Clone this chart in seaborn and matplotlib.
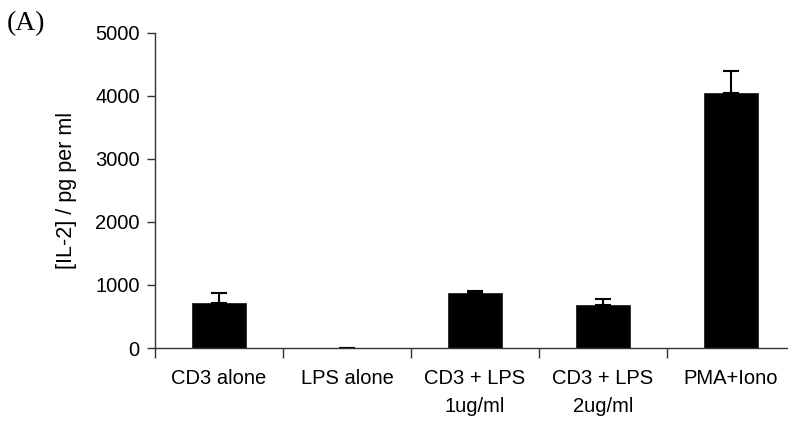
import matplotlib
matplotlib.use("Agg")
import matplotlib.pyplot as plt
import seaborn as sns
import numpy as np

categories = ["CD3 alone", "LPS alone", "CD3 + LPS\n1ug/ml", "CD3 + LPS\n2ug/ml", "PMA+Iono"]
values = [715, 5, 875, 690, 4050]
errors = [160, 0, 35, 95, 350]
yticks = [0, 1000, 2000, 3000, 4000, 5000]

sns.set_theme(style="ticks")
plt.rcParams['font.family'] = ['Liberation Sans', 'DejaVu Sans']
plt.rcParams['text.color'] = 'black'
plt.rcParams['xtick.labelcolor'] = 'black'
plt.rcParams['ytick.labelcolor'] = 'black'
plt.rcParams['axes.labelcolor'] = 'black'
FS = 14.5

fig = plt.figure(figsize=(7.88, 4.21), dpi=100)
ax = fig.add_axes([155/788, 1-348/421, 640/788, 315/421])

sns.barplot(x=categories, y=values, color="black", width=0.42, ax=ax,
            saturation=1, edgecolor="#222222", linewidth=0.6, errorbar=None)
pos = np.arange(len(categories))
ax.errorbar(pos, values, yerr=[np.zeros(len(errors)), errors], fmt="none",
            ecolor="black", elinewidth=1.5, capsize=5.5, capthick=1.5)

ax.set_xlim(-0.5, 4.5)
ax.set_ylim(0, 5000)
ax.set_yticks(yticks)
ax.set_yticklabels([str(v) for v in yticks], fontsize=FS)
ax.set_xticks(pos)
ax.set_xticklabels(categories, fontsize=FS, linespacing=1.6, va="top")
ax.set_xticks(np.arange(-0.5, 4.0, 1.0), minor=True)
ax.tick_params(axis="x", which="major", length=0, pad=15)
ax.tick_params(axis="x", which="minor", length=7, width=1, color="#333333", direction="out")
ax.tick_params(axis="y", length=6, width=1, color="#333333", pad=5)
ax.set_ylabel("[IL-2] / pg per ml", fontsize=15.5, labelpad=13)
ax.set_xlabel("")
for s in ["top", "right"]:
    ax.spines[s].set_visible(False)
for s in ["left", "bottom"]:
    ax.spines[s].set_color("#333333")
    ax.spines[s].set_linewidth(1)
ax.spines["left"].set_bounds(0, 5000)

fig.text(7/788, 1-24/421, "(A)", fontsize=20, family=["Liberation Serif"], va="center", ha="left")

fig.savefig("out.png", dpi=100)
